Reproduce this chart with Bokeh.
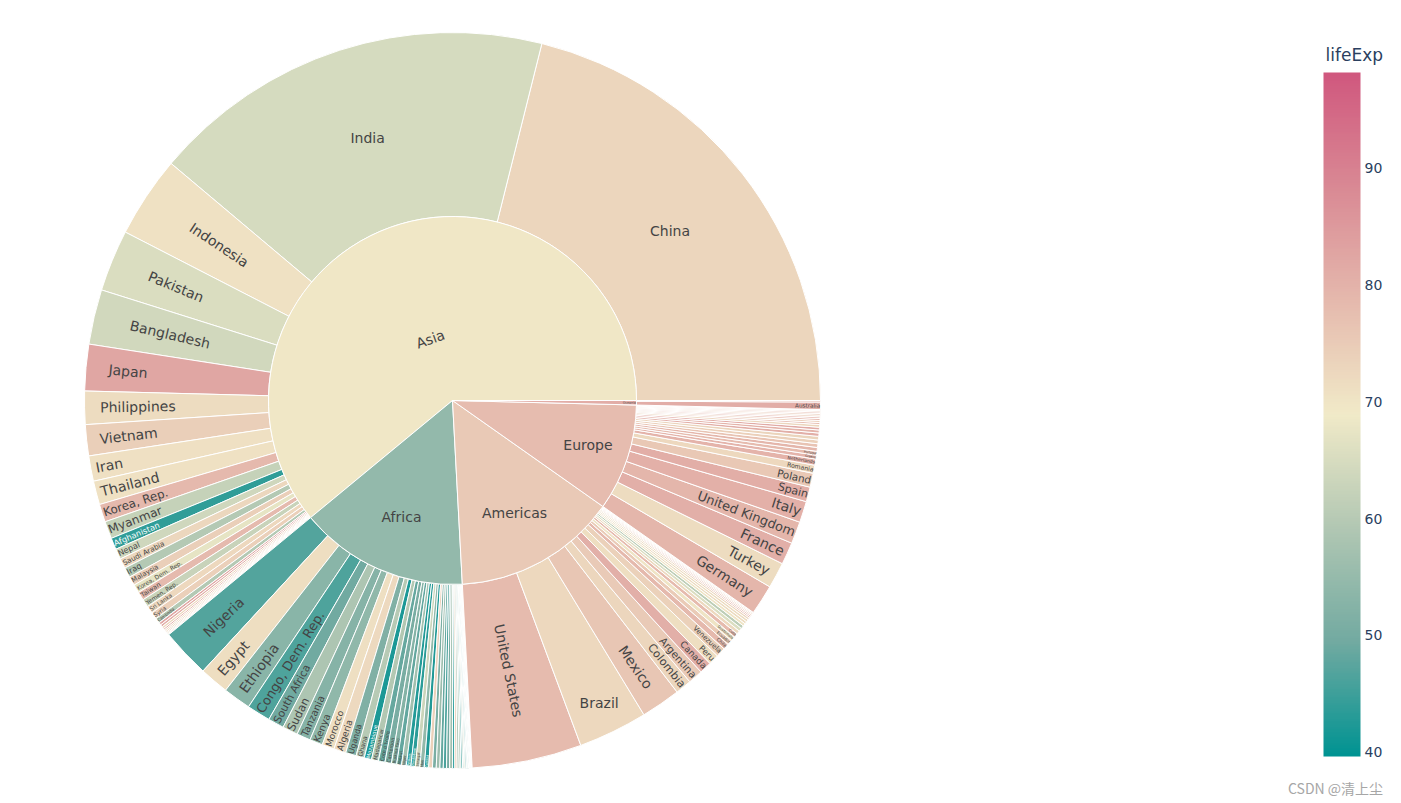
import math
import numpy as np
from bokeh.plotting import figure
from bokeh.models import ColumnDataSource, Range1d, LinearColorMapper, ColorBar, FixedTicker
from bokeh.embed import file_html
from bokeh.resources import INLINE
from bokeh.core.properties import value, field

# ---------------- data (gapminder, year 2007) ----------------
asia_names = ["Afghanistan", "Bahrain", "Bangladesh", "Cambodia", "China", "Hong Kong, China", "India",
              "Indonesia", "Iran", "Iraq", "Israel", "Japan", "Jordan", "Korea, Dem. Rep.", "Korea, Rep.",
              "Kuwait", "Lebanon", "Malaysia", "Mongolia", "Myanmar", "Nepal", "Oman", "Pakistan",
              "Philippines", "Saudi Arabia", "Singapore", "Sri Lanka", "Syria", "Taiwan", "Thailand",
              "Vietnam", "West Bank and Gaza", "Yemen, Rep."]
asia_pop = [31889923, 708573, 150448339, 14131858, 1318683096, 6980412, 1110396331,
            223547000, 69453570, 27499638, 6426679, 127467972, 6053193, 23301725, 49044790,
            2505559, 3921278, 24821286, 2874127, 47761980, 28901790, 3204897, 169270617,
            91077287, 27601038, 4553009, 20378239, 19314747, 23174294, 65068149,
            85262356, 4018332, 22211743]
asia_life = [43.828, 75.635, 64.062, 59.723, 72.961, 82.208, 64.698,
             70.650, 70.964, 59.545, 80.745, 82.603, 72.535, 67.297, 78.623,
             77.588, 71.993, 74.241, 66.803, 62.069, 63.785, 75.640, 65.483,
             71.688, 72.777, 79.972, 72.396, 74.143, 78.400, 70.616,
             74.249, 73.422, 62.698]

africa_names = ["Algeria", "Angola", "Benin", "Botswana", "Burkina Faso", "Burundi", "Cameroon",
                "Central African Republic", "Chad", "Comoros", "Congo, Dem. Rep.", "Congo, Rep.",
                "Cote d'Ivoire", "Djibouti", "Egypt", "Equatorial Guinea", "Eritrea", "Ethiopia",
                "Gabon", "Gambia", "Ghana", "Guinea", "Guinea-Bissau", "Kenya", "Lesotho", "Liberia",
                "Libya", "Madagascar", "Malawi", "Mali", "Mauritania", "Mauritius", "Morocco",
                "Mozambique", "Namibia", "Niger", "Nigeria", "Reunion", "Rwanda",
                "Sao Tome and Principe", "Senegal", "Sierra Leone", "Somalia", "South Africa",
                "Sudan", "Swaziland", "Tanzania", "Togo", "Tunisia", "Uganda", "Zambia", "Zimbabwe"]
africa_pop = [33333216, 12420476, 8078314, 1639131, 14326203, 8390505, 17696293,
              4369038, 10238807, 710960, 64606759, 3800610,
              18013409, 496374, 80264543, 551201, 4906585, 76511887,
              1454867, 1688359, 22873338, 9947814, 1472041, 35610177, 2012649, 3193942,
              6036914, 19167654, 13327079, 12031795, 3270065, 1250882, 33757175,
              19951656, 2055080, 12894865, 135031164, 798094, 8860588,
              199579, 12267493, 6144562, 9118773, 43997828,
              42292929, 1133066, 38139640, 5701579, 10276158, 29170398, 11746035, 12311143]
africa_life = [72.301, 42.731, 56.728, 50.728, 52.295, 49.580, 50.430,
               44.741, 50.651, 65.152, 46.462, 55.322,
               48.328, 54.791, 71.338, 51.579, 58.040, 52.947,
               56.735, 59.448, 60.022, 56.007, 46.388, 54.110, 42.592, 45.678,
               73.952, 59.443, 48.303, 54.467, 64.164, 72.801, 71.164,
               42.082, 52.906, 56.867, 46.859, 76.442, 46.242,
               65.528, 63.062, 42.568, 48.159, 49.339,
               58.556, 39.613, 52.517, 58.420, 73.923, 51.542, 42.384, 43.487]

americas_names = ["Argentina", "Bolivia", "Brazil", "Canada", "Chile", "Colombia", "Costa Rica", "Cuba",
                  "Dominican Republic", "Ecuador", "El Salvador", "Guatemala", "Haiti", "Honduras",
                  "Jamaica", "Mexico", "Nicaragua", "Panama", "Paraguay", "Peru", "Puerto Rico",
                  "Trinidad and Tobago", "United States", "Uruguay", "Venezuela"]
americas_pop = [40301927, 9119152, 190010647, 33390141, 16284741, 44227550, 4133884, 11416987,
                9319622, 13755680, 6939688, 12572928, 8502814, 7483763,
                2780132, 108700891, 5675356, 3242173, 6667147, 28674757, 3942491,
                1056608, 301139947, 3447496, 26084662]
americas_life = [75.320, 65.554, 72.390, 80.653, 78.553, 72.889, 78.782, 78.273,
                 72.235, 74.994, 71.878, 70.259, 60.916, 70.198,
                 72.567, 76.195, 72.899, 75.537, 71.752, 71.421, 78.746,
                 69.819, 78.242, 76.384, 73.747]

europe_names = ["Albania", "Austria", "Belgium", "Bosnia and Herzegovina", "Bulgaria", "Croatia",
                "Czech Republic", "Denmark", "Finland", "France", "Germany", "Greece", "Hungary",
                "Iceland", "Ireland", "Italy", "Montenegro", "Netherlands", "Norway", "Poland",
                "Portugal", "Romania", "Serbia", "Slovak Republic", "Slovenia", "Spain", "Sweden",
                "Switzerland", "Turkey", "United Kingdom"]
europe_pop = [3600523, 8199783, 10392226, 4552198, 7322858, 4493312,
              10228744, 5468120, 5238460, 61083916, 82400996, 10706290, 9956108,
              301931, 4109086, 58147733, 684736, 16570613, 4627926, 38518241,
              10642836, 22276056, 10150265, 5447502, 2009245, 40448191, 9031088,
              7554661, 71158647, 60776238]
europe_life = [76.423, 79.829, 79.441, 74.852, 73.005, 75.748,
               76.486, 78.332, 79.313, 80.657, 79.406, 79.483, 73.338,
               81.757, 78.885, 80.546, 74.543, 79.762, 80.196, 75.563,
               78.098, 72.476, 74.002, 74.663, 77.926, 80.941, 80.884,
               81.701, 71.777, 79.425]

oceania_names = ["Australia", "New Zealand"]
oceania_pop = [20434176, 4115771]
oceania_life = [81.235, 80.204]

continent_names = ["Asia", "Africa", "Americas", "Europe", "Oceania"]
colorbar_ticks = [40, 50, 60, 70, 80, 90]
colorbar_title = "lifeExp"
watermark = "CSDN @清上尘"

# ---------------- styling / layout ----------------
tealrose = ["#009392", "#72aaa1", "#b1c7b3", "#f1eac8", "#e5b9ad", "#d98994", "#d0587e"]
W, H = 1401, 803
CX, CY = 452, H - 400
R_IN, R_OUT = 184, 368
FONT = "DejaVu Sans"
BASE = 14.0
TEXT_H = 1.215
PAD = 3.5
HOR_MIN = 1.08
MIN_FONT = 3.0

groups = {
    "Asia": (asia_names, asia_pop, asia_life),
    "Africa": (africa_names, africa_pop, africa_life),
    "Americas": (americas_names, americas_pop, americas_life),
    "Europe": (europe_names, europe_pop, europe_life),
    "Oceania": (oceania_names, oceania_pop, oceania_life),
}

all_pop = np.array(sum([list(groups[c][1]) for c in continent_names], []), dtype=float)
all_life = np.array(sum([list(groups[c][2]) for c in continent_names], []), dtype=float)
mid = float(np.average(all_life, weights=all_pop))
cmin = float(all_life.min())
cmax = 2 * mid - cmin
total = all_pop.sum()


def hex2rgb(h):
    return np.array([int(h[i:i + 2], 16) for i in (1, 3, 5)], dtype=float)


scale_rgb = [hex2rgb(c) for c in tealrose]


def color_of(v):
    t = min(max((v - cmin) / (cmax - cmin), 0), 1) * (len(scale_rgb) - 1)
    k = min(int(t), len(scale_rgb) - 2)
    f = t - k
    return scale_rgb[k] * (1 - f) + scale_rgb[k + 1] * f


palette = []
for i in range(256):
    c = color_of(cmin + (cmax - cmin) * i / 255)
    palette.append("#%02x%02x%02x" % tuple(int(round(x)) for x in c))
mapper = LinearColorMapper(palette=palette, low=cmin, high=cmax)

# DejaVu Sans advance widths (em)
CW = {' ': .318, ',': .318, '.': .318, '-': .361, "'": .275,
      'A': .684, 'B': .686, 'C': .698, 'D': .770, 'E': .632, 'F': .575, 'G': .775, 'H': .752, 'I': .295,
      'J': .295, 'K': .656, 'L': .557, 'M': .863, 'N': .748, 'O': .787, 'P': .603, 'Q': .787, 'R': .695,
      'S': .635, 'T': .611, 'U': .732, 'V': .684, 'W': .989, 'X': .685, 'Y': .611, 'Z': .685,
      'a': .613, 'b': .635, 'c': .550, 'd': .635, 'e': .615, 'f': .352, 'g': .635, 'h': .634, 'i': .278,
      'j': .278, 'k': .579, 'l': .278, 'm': .974, 'n': .634, 'o': .612, 'p': .635, 'q': .635, 'r': .411,
      's': .521, 't': .392, 'u': .634, 'v': .592, 'w': .818, 'x': .592, 'y': .592, 'z': .525}


def text_w(s):
    return sum(CW.get(ch, .6) for ch in s) * BASE


def max_half(a, half, r, ring):
    t = math.tan(half)
    q = a + (1 / (2 * t) if t != 0 else 1e9)
    return r * min(1 / (math.sqrt(q * q + 0.5) + q), ring / (math.sqrt(a * a + ring / 2) + a))


def rcenter(a, b):
    return math.sqrt(max(0.0, 1 - b * b)) - a * b


def norm_angle(x):
    d = math.degrees(x) % 180
    if d > 90:
        d -= 180
    return math.radians(d)


def place_label(text, a0, a1, rpx0, rpx1):
    w = text_w(text)
    h = TEXT_H * BASE
    midang = (a0 + a1) / 2
    d = a1 - a0
    delta = math.atan2(math.sin(d), math.cos(d))
    half = 0.5 * min(delta if delta != 0 else math.pi, math.pi)
    ring = 1 - rpx0 / rpx1
    sn = math.sin(half)
    if sn == 0 or (1 + 1 / sn) == 0:
        r_ins = 0.0
    else:
        r_ins = max(0.0, min(1 / (1 + 1 / sn), ring / 2))
    hs = r_ins * rpx1 * 2 / math.hypot(w, h)
    cands = []
    if hs >= HOR_MIN:
        best = (1.0, 1 - r_ins, 0.0)
    else:
        cands.append((hs, 1 - r_ins, 0.0))
        rp = max(0.0, rpx1 - 2 * PAD)
        a = w / h
        s = max_half(a, half, rp, ring)
        cands.append((2 * s / h, rcenter(a, s / rp), norm_angle(midang)))
        a = h / w
        s = max_half(a, half, rp, ring)
        cands.append((2 * s / w, rcenter(a, s / rp), norm_angle(midang + math.pi / 2)))
        best = max(cands, key=lambda c: c[0])
    sc, rc, rot = best
    fs = BASE * min(1.0, sc)
    x = CX + rc * rpx1 * math.cos(midang)
    y = CY + rc * rpx1 * math.sin(midang)
    return x, y, rot, fs


wed = dict(x=[], y=[], r0=[], r1=[], start=[], end=[], life=[])
lab = dict(x=[], y=[], text=[], angle=[], fs=[], color=[])


def add_label(text, a0, a1, rpx0, rpx1, life):
    x, y, rot, fs = place_label(text, a0, a1, rpx0, rpx1)
    if fs < MIN_FONT:
        return
    r, g, b = color_of(life)
    bright = (r * 299 + g * 587 + b * 114) / 1000
    lab["x"].append(x)
    lab["y"].append(y)
    lab["text"].append(text)
    lab["angle"].append(rot)
    lab["fs"].append("%.2fpx" % fs)
    lab["color"].append("#ffffff" if bright < 128 else "#444444")


def add_wedge(a0, a1, r0, r1, life):
    wed["x"].append(CX)
    wed["y"].append(CY)
    wed["r0"].append(r0)
    wed["r1"].append(r1)
    wed["start"].append(a0)
    wed["end"].append(a1)
    wed["life"].append(life)


order = sorted(continent_names, key=lambda c: -sum(groups[c][1]))
ang = 0.0
for c in order:
    names, pops, lifes = groups[c]
    idx = sorted(range(len(names)), key=lambda i: -pops[i])
    clife = float(np.average(lifes, weights=pops))
    c0 = ang
    for i in idx:
        a0 = ang
        a1 = ang + 2 * math.pi * pops[i] / total
        add_wedge(a0, a1, R_IN, R_OUT, lifes[i])
        add_label(names[i], a0, a1, R_IN, R_OUT, lifes[i])
        ang = a1
    add_wedge(c0, ang, 0, R_IN, clife)
    add_label(c, c0, ang, 0, R_IN, clife)

p = figure(width=W, height=H, x_range=Range1d(0, W), y_range=Range1d(0, H),
           output_backend="svg", toolbar_location=None, min_border=0,
           x_axis_location=None, y_axis_location=None, outline_line_color=None)
p.grid.visible = False
p.background_fill_color = "white"

p.annular_wedge(x="x", y="y", inner_radius="r0", outer_radius="r1", start_angle="start", end_angle="end",
                fill_color={"field": "life", "transform": mapper}, line_color="white", line_width=1,
                source=ColumnDataSource(wed))

p.text(x="x", y="y", text="text", angle="angle", text_font=value(FONT), text_font_size=field("fs"),
       text_color="color", text_align="center", text_baseline="middle", source=ColumnDataSource(lab))

cb = ColorBar(color_mapper=mapper, ticker=FixedTicker(ticks=colorbar_ticks), width=37, height=684,
              location=(1323, 47),
              major_label_text_font=FONT, major_label_text_font_size="14px",
              major_label_text_color="#2a3f5f", major_tick_line_color=None, minor_tick_line_color=None,
              bar_line_color=None, padding=0, background_fill_alpha=0, border_line_color=None,
              label_standoff=4)
p.add_layout(cb)

p.text(x=[1325], y=[H - 54], text=[colorbar_title], text_font=value(FONT), text_font_size="17px",
       text_color="#2a3f5f", text_align="left", text_baseline="middle")

p.text(x=[1335], y=[H - 787], text=[watermark], text_font=value("Noto Sans CJK SC"), text_font_size="14px",
       text_color="#a6a6a6", text_align="center", text_baseline="middle")

open("out.html", "w").write(file_html(p, INLINE))
